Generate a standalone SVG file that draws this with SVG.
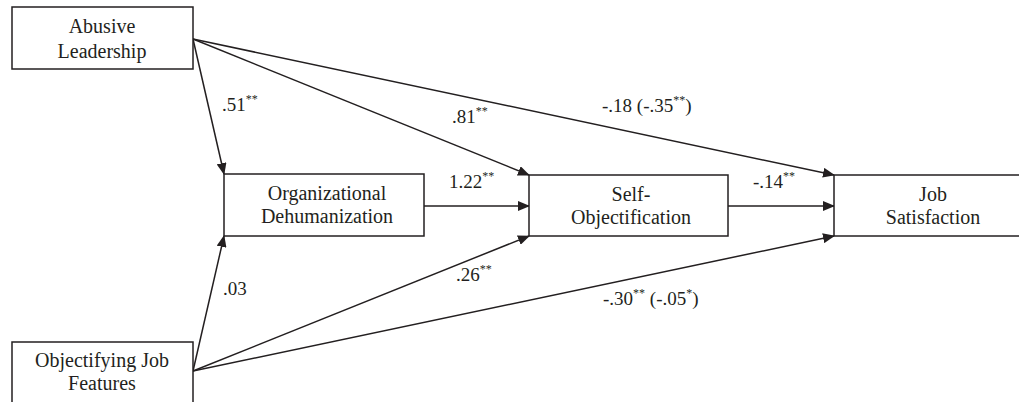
<svg xmlns="http://www.w3.org/2000/svg" width="1019" height="402" viewBox="0 0 1019 402">
<defs>
<marker id="ah" markerUnits="userSpaceOnUse" markerWidth="12" markerHeight="10" refX="11" refY="5" orient="auto">
<path d="M0,0 L12,5 L0,10 Z" fill="#231f20"/>
</marker>
</defs>
<rect width="1019" height="402" fill="#fff"/>
<g id="connectors" stroke="#231f20" stroke-width="1.5" fill="none" marker-end="url(#ah)">
<line x1="193" y1="39" x2="224" y2="174"/>
<line x1="193" y1="39" x2="529" y2="175"/>
<line x1="193" y1="39" x2="834" y2="175"/>
<line x1="424" y1="206" x2="529" y2="206"/>
<line x1="728" y1="206" x2="834" y2="206"/>
<line x1="193" y1="371" x2="224" y2="236"/>
<line x1="193" y1="371" x2="529" y2="236"/>
<line x1="193" y1="371" x2="834" y2="236"/>
</g>
<g id="labels" font-family="Liberation Serif" font-size="19" fill="#231f20">
<text x="222" y="111">.51<tspan font-size="12" dy="-8">**</tspan></text>
<text x="452" y="123">.81<tspan font-size="12" dy="-8">**</tspan></text>
<text x="602" y="112">-.18 (-.35<tspan font-size="12" dy="-8">**</tspan><tspan dy="8">)</tspan></text>
<text x="449" y="188">1.22<tspan font-size="12" dy="-8">**</tspan></text>
<text x="753" y="188">-.14<tspan font-size="12" dy="-8">**</tspan></text>
<text x="223" y="295">.03</text>
<text x="456" y="281">.26<tspan font-size="12" dy="-8">**</tspan></text>
<text x="603" y="305">-.30<tspan font-size="12" dy="-8">**</tspan><tspan dy="8"> (-.05</tspan><tspan font-size="12" dy="-8">*</tspan><tspan dy="8">)</tspan></text>
</g>
<g font-family="Liberation Serif" font-size="20" fill="#231f20" text-anchor="middle">
<g id="abusive-leadership">
<rect x="12" y="7" width="181" height="62" fill="#fff" stroke="#231f20" stroke-width="1.5"/>
<text x="102" y="33">Abusive</text>
<text x="102" y="58">Leadership</text>
</g>
<g id="objectifying-job-features">
<rect x="12" y="342" width="181" height="80" fill="#fff" stroke="#231f20" stroke-width="1.5"/>
<text x="102" y="367">Objectifying Job</text>
<text x="102" y="390">Features</text>
</g>
<g id="organizational-dehumanization">
<rect x="224" y="174" width="200" height="62" fill="#fff" stroke="#231f20" stroke-width="1.5"/>
<text x="327" y="200">Organizational</text>
<text x="327" y="223">Dehumanization</text>
</g>
<g id="self-objectification">
<rect x="529" y="175" width="199" height="61" fill="#fff" stroke="#231f20" stroke-width="1.5"/>
<text x="631" y="201">Self-</text>
<text x="631" y="224">Objectification</text>
</g>
<g id="job-satisfaction">
<rect x="834" y="175" width="200" height="61" fill="#fff" stroke="#231f20" stroke-width="1.5"/>
<text x="933" y="201">Job</text>
<text x="933" y="224">Satisfaction</text>
</g>
</g>
</svg>
